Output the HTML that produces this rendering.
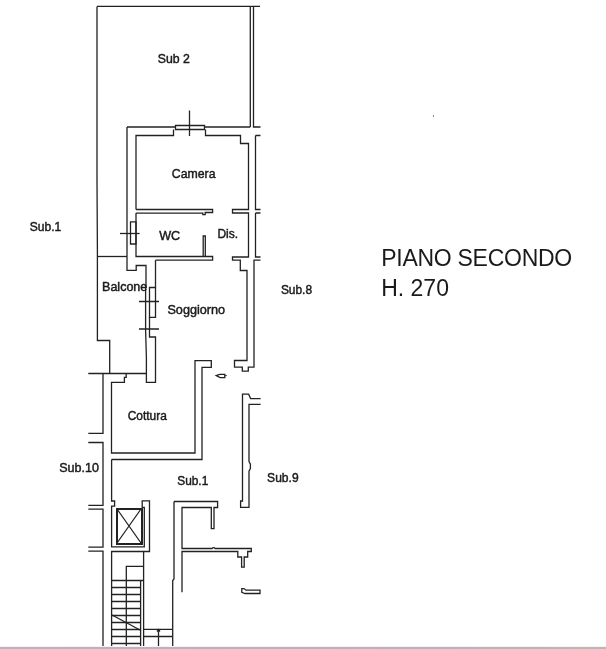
<!DOCTYPE html>
<html><head><meta charset="utf-8">
<style>
html,body{margin:0;padding:0;background:#fff;}
body{width:606px;height:649px;overflow:hidden;position:relative;}
svg{position:absolute;left:0;top:0;display:block;}
text{font-family:"Liberation Sans",sans-serif;fill:#1a1a1a;}
svg{transform:translateZ(0);}
.l{font-size:12.6px;stroke:#1a1a1a;stroke-width:0.45px;}
.t{font-size:23px;}
</style></head>
<body>
<svg width="606" height="649" viewBox="0 0 606 649">
<g fill="none" stroke="#222" stroke-width="1.3" stroke-linejoin="miter">
<!-- Sub 2 outer -->
<path d="M97 6.4 H260"/>
<path d="M97 6.4 V180 L97.4 250 V340.5 H109.7 V373.5"/>
<path d="M250.3 6.4 V127"/>
<path d="M253.5 6.4 V127 H260.5"/>
<!-- Camera outer wall top -->
<path d="M127 127 H175.5"/>
<path d="M204.5 127 H250.3"/>
<path d="M127 127 V270.3 H136.2 V265.5 H146 V287.5"/>
<!-- window top -->
<path d="M175.5 125.5 H204.5 V129.5 H175.5 Z"/>
<path d="M189.5 110.5 V136"/>
<!-- Camera inner -->
<path d="M136 209.5 V135.5 H173.5 V129.5"/>
<path d="M205.5 129.5 V135.5 H240.5 V143.5 H248.5 V209.5 H232.5 V213 H248.5 V257 H232.5 V260.2 H240.3 V270.5 H247 V360.5 H234.5 V367.2 H242.3 V371.2 H248.3 V367.2 H254 V260.2 H260.5"/>
<path d="M255.5 135.5 H260.5 M255.5 135.5 V209.5 H260.5"/>
<path d="M255.5 213 H260.5 M255.5 213 V257 H260.5"/>
<!-- Camera bottom / WC top -->
<path d="M136 209.5 H212.6 V212.5 H205.2 V214.6 H202.8 V213.2 H136"/>
<!-- WC right wall -->
<path d="M203.2 256.5 V236 H205.3 V256.5"/>
<!-- WC bottom -->
<path d="M136 213 V256.5 H212.6 V260.2 H155.5"/>
<!-- WC left window -->
<path d="M130.5 221.8 H136 V244 H130.5 Z"/>
<path d="M120 233.5 H139.6"/>
<!-- Balcone top -->
<path d="M97.2 256.5 H127"/>
<!-- Balcone right wall / door -->
<path d="M149.5 287.5 H155.5 V317.3 H149.5 Z"/>
<path d="M155.5 260.2 V287.5"/>
<path d="M145.6 287.5 V330 L146.4 358 V382.3 H155.5 V337 H149.5 V317.3"/>
<path d="M139 301.5 H159 M139 329 H159"/>
<!-- kitchen -->
<path d="M88.3 373.5 H146"/>
<path d="M103 373.5 V433.3 H88.3"/>
<path d="M88.3 442.5 H103 V505.3 H88.3"/>
<path d="M88.3 509.2 H103 V547.2 H88.3"/>
<path d="M88.3 551.2 H103 V649"/>
<path d="M126.2 373.5 V377.3 H124.4 V382.3 H111.5 V453 H195 V360.6 H211.3 V367.3 H202 V459.5 H111.5"/>
<!-- Sub.1 lower -->
<path d="M111.6 459.5 V501 H114.6 V506.2 H111.6 V546.8 H144.3 V507.3 H142.2 V500.8 H149.5 V551.5 H111.6 V649"/>
<rect x="117" y="509" width="25" height="35" stroke-width="2"/>
<path d="M117 509 L141 543 M141 509 L117 543"/>
<!-- stairs -->
<path d="M143.6 551.5 V649"/>
<path d="M126.3 649 V566.4 H143.6"/>
<path d="M140.6 580.5 V649"/>
<path d="M111.6 580.5 H143.6 M111.6 587.5 H140.6 M111.6 594.5 H140.6 M111.6 601.5 H140.6 M111.6 608.5 H140.6 M111.6 615.5 H140.6 M111.6 622.5 H140.6 M111.6 629.5 H140.6 M111.6 636.5 H140.6 M111.6 643.5 H140.6"/>
<path d="M112 615 L140 630"/>
<path d="M143.6 629.3 H172.7 M143.6 636.5 H172.7 M158.5 629.3 V649"/>
<path d="M157 631.5 L158.5 629.5 L160 631.5"/>
<path d="M174 501.5 V579 L172.7 580.5 V649"/>
<path d="M174 501.5 H217.6 V507.5 H214 V528.6 H211.3 V507.5 H182 V548.5 H212 Q213.6 546.6 215.2 548.5 H251.3 V551.5 H247.7 V557 H244.2 V567.2 H241.6 V557 H237.8 V551.5 H182 V592.3"/>
<!-- Sub.9 wall -->
<path d="M260.6 398.6 H250.6 L248.6 394.2 H242.5 V501 H240.6 V507.4 H249 V471.2 L250.4 468.6 V464.2 L249 461.6 V404.4 H260.6"/>
<!-- bottom shape -->
<path d="M241.8 588.6 H244 L246 590.2 H260 V593.5 H245 L241.8 592.4 Z"/>
<!-- small symbol -->
<path d="M216.2 375.6 L219.6 374.4 H224.8 V377.7 H220.2 Z"/>
<path d="M224.8 375.6 H227" stroke-width="0.8"/>
</g>
<rect x="433" y="115" width="1" height="2" fill="#888"/>
<defs><linearGradient id="bs" x1="0" x2="1" y1="0" y2="0"><stop offset="0" stop-color="#b9b5bd"/><stop offset="0.5" stop-color="#b6b3b7"/><stop offset="1" stop-color="#b3bbb7"/></linearGradient></defs><rect x="0" y="647" width="606" height="2" fill="url(#bs)"/><rect x="0" y="646" width="606" height="1" fill="#f4f3f5"/>
<g>
<text class="l" transform="translate(157.8,62.7) scale(0.976,1)">Sub 2</text>
<text class="l" transform="translate(171.85,177.9) scale(0.976,1)">Camera</text>
<text class="l" transform="translate(159.2,240.0) scale(1.0,1)">WC</text>
<text class="l" transform="translate(217.4,237.65) scale(0.952,1)">Dis.</text>
<text class="l" transform="translate(29.8,231.35) scale(0.955,1)">Sub.1</text>
<text class="l" transform="translate(280.9,293.5) scale(0.946,1)">Sub.8</text>
<text class="l" transform="translate(102.05,290.65) scale(0.994,1)">Balcone</text>
<text class="l" transform="translate(167.4,314.4) scale(1.005,1)">Soggiorno</text>
<text class="l" transform="translate(127.7,419.5) scale(0.948,1)">Cottura</text>
<text class="l" transform="translate(59.2,472.0) scale(0.995,1)">Sub.10</text>
<text class="l" transform="translate(177.25,484.5) scale(0.943,1)">Sub.1</text>
<text class="l" transform="translate(267.1,482.45) scale(0.957,1)">Sub.9</text>
<text class="t" x="381.2" y="265.5" style="letter-spacing:-0.27px">PIANO SECONDO</text>
<text class="t" x="381.2" y="295.5">H. 270</text>
</g>
</svg>
</body></html>
